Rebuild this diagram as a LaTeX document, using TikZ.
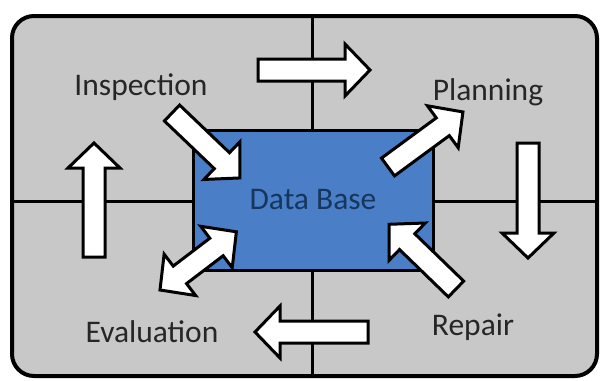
\documentclass[tikz,border=0pt]{standalone}
\usepackage{fontspec}
\setmainfont{Carlito}
\definecolor{panelgray}{HTML}{C8C8C8}
\definecolor{dbblue}{HTML}{4A7EC7}
\definecolor{dbtext}{HTML}{17365D}
\definecolor{labeltext}{HTML}{262626}
\tikzset{
  arrowline/.style={draw=black, line width=3pt, fill=white, line join=miter},
  blockarrow/.pic={\path[arrowline] (0,-11) -- (#1-25,-11) -- (#1-25,-26) -- (#1,0) -- (#1-25,26) -- (#1-25,11) -- (0,11) -- cycle;},
  dblarrow/.pic={\path[arrowline] (0,0) -- (25,26) -- (25,11) -- (#1-25,11) -- (#1-25,26) -- (#1,0) -- (#1-25,-26) -- (#1-25,-11) -- (25,-11) -- (25,-26) -- cycle;},
  steplabel/.style={font=\fontsize{31.5}{36}\selectfont, text=labeltext, anchor=base, inner sep=0pt},
  divider/.style={draw=black, line width=3pt}
}
\begin{document}
\begin{tikzpicture}[x=1pt,y=-1pt]
\useasboundingbox (0,0) rectangle (602,380);
\fill[white] (0,0) rectangle (602,380);
% panel
\path[fill=panelgray, draw=black, line width=4pt, rounded corners=22pt] (12,16) rectangle (597,376);
\coordinate (vtop) at (312,16);
\coordinate (vbot) at (312,376);
\coordinate (hleft) at (12,201);
\coordinate (hright) at (597,201);
\path[divider] (vtop) -- (vbot);
\path[divider] (hleft) -- (hright);
% database
\node[draw=black, line width=3pt, fill=dbblue, minimum width=240pt, minimum height=140pt, inner sep=0pt] (db) at (313,200) {};
\node[font=\fontsize{31.5}{36}\selectfont, text=dbtext, anchor=base, inner sep=0pt] (dbt) at (313,209) {Data Base};
% labels
\node[steplabel] (insp) at (141,95) {Inspection};
\node[steplabel] (plan) at (488,100) {Planning};
\node[steplabel] (eval) at (152,342) {Evaluation};
\node[steplabel] (rep) at (473,335) {Repair};
% cycle arrows
\pic (atop) [shift={(258,70)}, rotate=0] {blockarrow=112};
\pic (aright) [shift={(528,143)}, rotate=-90] {blockarrow=115};
\pic (abot) [shift={(368,332)}, rotate=180] {blockarrow=113};
\pic (aleft) [shift={(94,257)}, rotate=90] {blockarrow=114};
% database arrows
\pic (ainsp) [shift={(172,113)}, rotate=-43.7] {blockarrow=94};
\pic (aplan) [shift={(388,167)}, rotate=36.3] {blockarrow=93};
\pic (arep) [shift={(456,289)}, rotate=135.9] {blockarrow=93};
\pic (aeval) [shift={(160,290)}, rotate=37.3] {dblarrow=96};
\end{tikzpicture}
\end{document}
